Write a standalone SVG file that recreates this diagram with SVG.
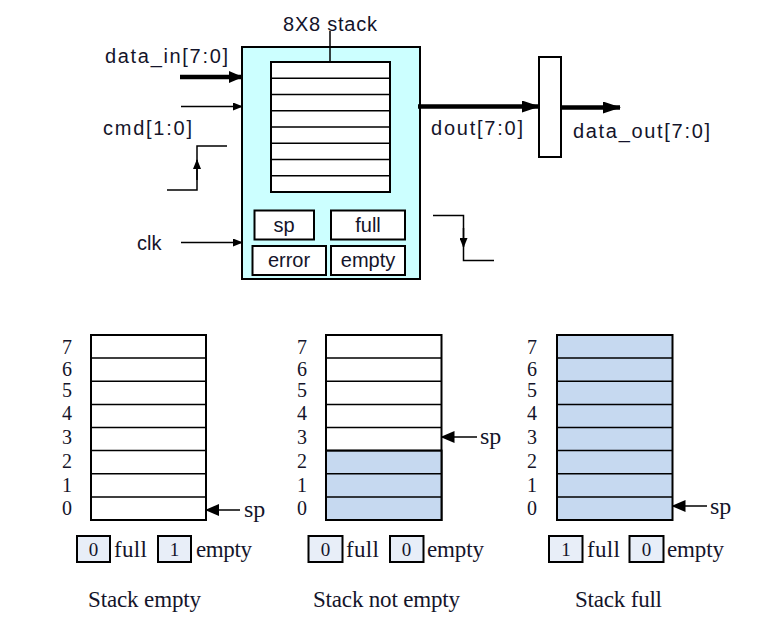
<svg xmlns="http://www.w3.org/2000/svg" width="773" height="621" viewBox="0 0 773 621">
<style>
.sans{font-family:"Liberation Sans",Arial,sans-serif;fill:#14142a}
.serif{font-family:"Liberation Serif","Times New Roman",serif;fill:#14142a}
.ln{stroke:#000;fill:none;stroke-width:1.5}
.thick{stroke:#000;fill:none;stroke-width:4.5}
.box{stroke:#000;stroke-width:2}
.cell{fill:#fff;stroke:#000;stroke-width:2}
.cellf{fill:#c6d9f0;stroke:#000;stroke-width:2}
.flag{fill:#e8eef8;stroke:#000;stroke-width:2}
</style>
<defs>
<marker id="ahs" markerUnits="userSpaceOnUse" markerWidth="10" markerHeight="8" refX="9" refY="4" orient="auto"><path d="M0,0 L10,4 L0,8 Z" fill="#000"/></marker>
<marker id="ahb" markerUnits="userSpaceOnUse" markerWidth="18" markerHeight="12" refX="17" refY="6" orient="auto"><path d="M0,0 L18,6 L0,12 Z" fill="#000"/></marker>
<marker id="ahm" markerUnits="userSpaceOnUse" markerWidth="14" markerHeight="12" refX="13" refY="6" orient="auto"><path d="M0,0 L14,6 L0,12 Z" fill="#000"/></marker>
</defs>

<g id="stack-module">
<rect x="242" y="47" width="178" height="232" fill="#ccffff" class="box"/>
<rect x="271" y="62" width="119" height="130" class="cell"/>
<path d="M271,78.25H390M271,94.5H390M271,110.75H390M271,127H390M271,143.25H390M271,159.5H390M271,175.75H390" class="ln" stroke-width="2"/>
<line x1="330" y1="62" x2="330" y2="31" class="ln" stroke-width="1.2"/>
<text x="330" y="31" class="sans" font-size="20" text-anchor="middle" textLength="94">8X8 stack</text>
</g>
<g id="reg-sp"><rect x="254.5" y="210.5" width="59.5" height="29" fill="#fff" class="box"/><text x="284" y="232" class="sans" font-size="20" text-anchor="middle">sp</text></g>
<g id="reg-full"><rect x="331" y="210.5" width="74" height="29" fill="#fff" class="box"/><text x="368" y="232" class="sans" font-size="20" text-anchor="middle">full</text></g>
<g id="reg-error"><rect x="252.5" y="246" width="73.5" height="29" fill="#fff" class="box"/><text x="289" y="266.5" class="sans" font-size="20" text-anchor="middle">error</text></g>
<g id="reg-empty"><rect x="331" y="246" width="74" height="29" fill="#fff" class="box"/><text x="368" y="266.5" class="sans" font-size="20" text-anchor="middle">empty</text></g>

<g id="out-register"><rect x="539" y="57" width="22" height="100" fill="#fff" class="box"/></g>

<g id="labels">
<text x="105" y="63" class="sans" font-size="20" textLength="123">data_in[7:0]</text>
<text x="103" y="135" class="sans" font-size="20" textLength="89">cmd[1:0]</text>
<text x="137" y="250" class="sans" font-size="20">clk</text>
<text x="431" y="135" class="sans" font-size="20" textLength="92">dout[7:0]</text>
<text x="573" y="138" class="sans" font-size="20" textLength="137">data_out[7:0]</text>
</g>

<g id="connectors">
<line x1="180" y1="77" x2="242" y2="77" class="thick" stroke-width="4" marker-end="url(#ahm)"/>
<line x1="181" y1="106.5" x2="242" y2="106.5" class="ln" marker-end="url(#ahs)"/>
<line x1="181" y1="242.5" x2="242" y2="242.5" class="ln" marker-end="url(#ahs)"/>
<line x1="418" y1="106.5" x2="539" y2="106.5" class="thick" marker-end="url(#ahb)"/>
<line x1="561" y1="107.5" x2="620" y2="107.5" class="thick" marker-end="url(#ahb)"/>
<path d="M167,190H197V146H227" class="ln" stroke-width="2"/>
<path d="M197,180V160" class="ln" stroke-width="2" marker-end="url(#ahs)"/>
<path d="M433,215.5H463.5V260.5H494" class="ln" stroke-width="2"/>
<path d="M463.5,228V247" class="ln" stroke-width="2" marker-end="url(#ahs)"/>
</g>

<g id="stack-empty">
<rect x="91" y="335" width="115" height="185" class="cell"/>
<path d="M91,358.1H206M91,381.25H206M91,404.4H206M91,427.5H206M91,450.6H206M91,473.75H206M91,496.9H206" class="ln" stroke-width="2"/>
<g class="serif" font-size="20" text-anchor="middle">
<text x="67" y="354">7</text><text x="67" y="376">6</text><text x="67" y="397">5</text><text x="67" y="420">4</text><text x="67" y="444">3</text><text x="67" y="468">2</text><text x="67" y="492">1</text><text x="67" y="515">0</text>
</g>
<line x1="240" y1="510" x2="206" y2="510" class="ln" marker-end="url(#ahm)"/>
<text x="244" y="517" class="serif" font-size="24">sp</text>
<rect x="77" y="536" width="33" height="26" class="flag"/><text x="93.5" y="556" class="serif" font-size="19" text-anchor="middle">0</text>
<text x="114" y="557" class="serif" font-size="23" textLength="33">full</text>
<rect x="158" y="536" width="33" height="26" class="flag"/><text x="174.5" y="556" class="serif" font-size="19" text-anchor="middle">1</text>
<text x="196" y="557" class="serif" font-size="23" textLength="56">empty</text>
<text x="88" y="607" class="serif" font-size="23" textLength="113">Stack empty</text>
</g>

<g id="stack-not-empty">
<rect x="326" y="335" width="115.5" height="185" class="cell"/>
<rect x="326" y="450.6" width="115.5" height="69.4" class="cellf"/>
<path d="M326,358.1H441.5M326,381.25H441.5M326,404.4H441.5M326,427.5H441.5M326,450.6H441.5M326,473.75H441.5M326,496.9H441.5" class="ln" stroke-width="2"/>
<g class="serif" font-size="20" text-anchor="middle">
<text x="302" y="354">7</text><text x="302" y="376">6</text><text x="302" y="397">5</text><text x="302" y="420">4</text><text x="302" y="444">3</text><text x="302" y="468">2</text><text x="302" y="492">1</text><text x="302" y="515">0</text>
</g>
<line x1="477" y1="437" x2="441.5" y2="437" class="ln" marker-end="url(#ahm)"/>
<text x="480" y="444" class="serif" font-size="24">sp</text>
<rect x="308.5" y="536" width="34" height="26" class="flag"/><text x="325.5" y="556" class="serif" font-size="19" text-anchor="middle">0</text>
<text x="346" y="557" class="serif" font-size="23" textLength="33">full</text>
<rect x="390" y="536" width="33.5" height="26" class="flag"/><text x="406.5" y="556" class="serif" font-size="19" text-anchor="middle">0</text>
<text x="427" y="557" class="serif" font-size="23" textLength="57">empty</text>
<text x="313" y="607" class="serif" font-size="23" textLength="147">Stack not empty</text>
</g>

<g id="stack-full">
<rect x="557" y="335" width="115.5" height="185" class="cellf"/>
<path d="M557,358.1H672.5M557,381.25H672.5M557,404.4H672.5M557,427.5H672.5M557,450.6H672.5M557,473.75H672.5M557,496.9H672.5" class="ln" stroke-width="2"/>
<g class="serif" font-size="20" text-anchor="middle">
<text x="532" y="354">7</text><text x="532" y="376">6</text><text x="532" y="397">5</text><text x="532" y="420">4</text><text x="532" y="444">3</text><text x="532" y="468">2</text><text x="532" y="492">1</text><text x="532" y="515">0</text>
</g>
<line x1="707" y1="506" x2="672.5" y2="506" class="ln" marker-end="url(#ahm)"/>
<text x="710" y="514" class="serif" font-size="24">sp</text>
<rect x="549" y="536" width="33.5" height="26" class="flag"/><text x="566" y="556" class="serif" font-size="19" text-anchor="middle">1</text>
<text x="587" y="557" class="serif" font-size="23" textLength="33">full</text>
<rect x="629.5" y="536" width="34" height="26" class="flag"/><text x="646.5" y="556" class="serif" font-size="19" text-anchor="middle">0</text>
<text x="667" y="557" class="serif" font-size="23" textLength="57">empty</text>
<text x="575" y="607" class="serif" font-size="23" textLength="87">Stack full</text>
</g>
</svg>
